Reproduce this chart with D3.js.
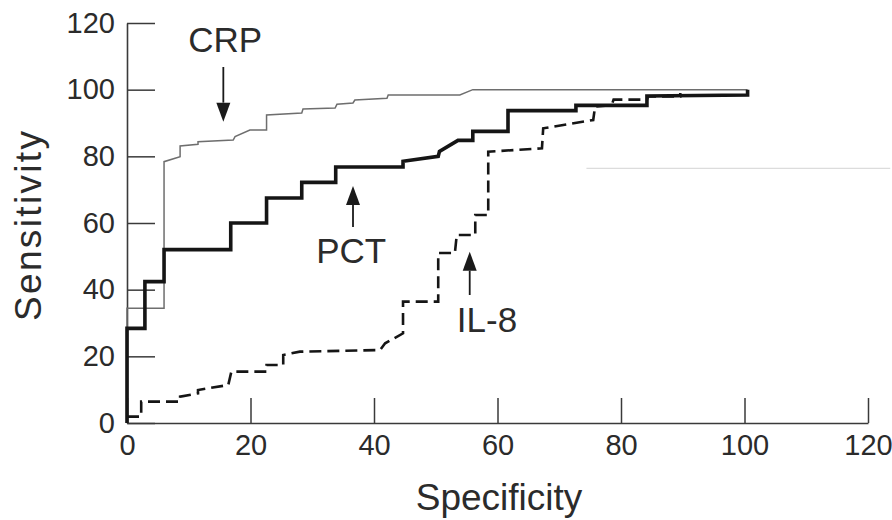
<!DOCTYPE html>
<html>
<head>
<meta charset="utf-8">
<script src="https://cdn.jsdelivr.net/npm/d3@7"></script>
<style>
  body { margin: 0; background: #fff; }
  svg text { font-family: 'Liberation Sans', Arial, Helvetica, sans-serif; fill: #2b2b2b; }
</style>
</head>
<body>
<svg id="svg_roc" width="892" height="520"></svg>
<script>
// ROC curves, [specificity, sensitivity] vertices
const crp = [
  [0, 0], [0, 34.4], [6, 34.4], [6, 78.4], [8.6, 79.9], [8.6, 83.1], [11.5, 83.6], [11.5, 84.4],
  [17.2, 84.9], [17.5, 85.9], [19.9, 87.9], [22.6, 87.9], [22.6, 92.4], [28.3, 93], [28.5, 94.2],
  [33.7, 94.5], [34, 95.6], [36.6, 96], [36.9, 96.9], [42.1, 97.4], [42.3, 98.4], [53.9, 98.4],
  [56, 100], [100.5, 100],
];
const pct = [
  [0, 0], [0, 28.4], [2.9, 28.4], [2.9, 42.4], [6, 42.4], [6, 52], [16.8, 52], [16.8, 60],
  [22.6, 60], [22.6, 67.5], [28.3, 67.5], [28.3, 72.2], [33.8, 72.2], [33.8, 76.8], [44.7, 76.8],
  [44.7, 78.5], [50.4, 80], [50.6, 81.5], [53.6, 84.8], [56, 84.8], [56, 87.5], [61.7, 87.5],
  [61.7, 93.7], [72.7, 93.7], [72.7, 95.3], [84.2, 95.3], [84.2, 98.1], [100.5, 98.4], [100.5, 100],
];
const il8 = [
  [0, 1.9], [2.3, 1.9], [2.3, 6.4], [8.6, 6.4], [8.6, 7.9], [11.5, 8.9], [11.5, 9.9], [16.4, 11.4],
  [16.9, 15.4], [22.6, 15.4], [22.6, 17.4], [25.3, 17.4], [25.3, 20.4], [28, 21.4], [41, 21.9],
  [41.8, 23.9], [44.7, 26.9], [44.7, 36.4], [50.4, 36.4], [50.4, 51], [53.1, 51], [53.4, 56.4],
  [56.4, 56.4], [56.4, 62.4], [58.5, 62.4], [58.5, 81.4], [67.2, 82.4], [67.4, 88.4], [75.5, 90.9],
  [75.8, 94.9], [78.5, 95.4], [78.8, 97], [84.2, 97], [84.4, 98], [89.6, 98], [89.6, 99],
];
const x_ticks = [0, 20, 40, 60, 80, 100, 120];
const y_ticks = [0, 20, 40, 60, 80, 100, 120];
// label, [spec, sens] of text anchor, arrow from, arrow tip
const annot_labels = ['CRP', 'PCT', 'IL-8'];
const annot_text_at = [[15.9, 111.4], [36.3, 48], [58.3, 27.4]];
const annot_arrow_from = [[15.6, 106.8], [36.6, 58.8], [55.5, 38.4]];
const annot_arrow_to = [[15.6, 90.4], [36.6, 71.1], [55.5, 51.4]];
// faint stray line on the scan
const stray_line = [[74.4, 76.4], [123.6, 76.4]];

const svg = d3.select('#svg_roc');
const margin = { top: 23, right: 24, bottom: 97, left: 127 };
const width = +svg.attr('width') - margin.left - margin.right;
const height = +svg.attr('height') - margin.top - margin.bottom;

const x = d3.scaleLinear().domain([0, 120]).range([0, width]);
const y = d3.scaleLinear().domain([0, 120]).range([height, 0]);
const line = d3.line().x(d => x(d[0])).y(d => y(d[1]));

const plot = svg.append('g')
  .attr('transform', `translate(${[margin.left, margin.top]})`);

plot.append('path')
  .attr('d', line(stray_line))
  .attr('fill', 'none')
  .attr('stroke', '#dcdcdc')
  .attr('stroke-width', 1.2);

const axis_x = plot.append('g')
  .attr('transform', `translate(0,${height})`)
  .call(d3.axisBottom(x).tickValues(x_ticks).tickSizeInner(-25).tickSizeOuter(0).tickPadding(11));
const axis_y = plot.append('g')
  .call(d3.axisLeft(y).tickValues(y_ticks).tickSizeInner(-28).tickSizeOuter(0).tickPadding(12));

[axis_x, axis_y].forEach((ax) => {
  ax.select('.domain').attr('stroke', '#3a3a3a').attr('stroke-width', 1.6);
  ax.selectAll('.tick line').attr('stroke', '#3a3a3a').attr('stroke-width', 1.5);
  ax.selectAll('.tick text')
    .style('font-size', '29px')
    .attr('fill', '#2b2b2b');
});

plot.append('path')
  .attr('d', line(crp))
  .attr('fill', 'none')
  .attr('stroke', '#6e6e6e')
  .attr('stroke-width', 1.5);

plot.append('path')
  .attr('d', line(il8))
  .attr('fill', 'none')
  .attr('stroke', '#151515')
  .attr('stroke-width', 2.6)
  .attr('stroke-dasharray', '12,6');

plot.append('path')
  .attr('d', line(pct))
  .attr('fill', 'none')
  .attr('stroke', '#151515')
  .attr('stroke-width', 3.6)
  .attr('stroke-linejoin', 'miter');

// annotations
annot_labels.forEach((lbl, i) => {
  const [x0, y0] = [x(annot_arrow_from[i][0]), y(annot_arrow_from[i][1])];
  const [x1, y1] = [x(annot_arrow_to[i][0]), y(annot_arrow_to[i][1])];
  const dir = y1 > y0 ? 1 : -1;
  const head = 19;
  plot.append('line')
    .attr('x1', x0).attr('y1', y0)
    .attr('x2', x1).attr('y2', y1 - dir * head)
    .attr('stroke', '#1a1a1a')
    .attr('stroke-width', 1.8);
  plot.append('path')
    .attr('d', `M${x1},${y1}L${x1 - 7},${y1 - dir * head}L${x1 + 7},${y1 - dir * head}Z`)
    .attr('fill', '#1a1a1a');
  plot.append('text')
    .attr('x', x(annot_text_at[i][0]))
    .attr('y', y(annot_text_at[i][1]))
    .attr('text-anchor', 'middle')
    .style('font-size', '35px')
    .text(lbl);
});

svg.append('text')
  .attr('transform', `translate(41,226) rotate(-90)`)
  .attr('text-anchor', 'middle')
  .attr('textLength', 190)
  .style('font-size', '37px')
  .text('Sensitivity');

svg.append('text')
  .attr('x', 499)
  .attr('y', 510)
  .attr('text-anchor', 'middle')
  .style('font-size', '37px')
  .text('Specificity');
</script>
</body>
</html>
